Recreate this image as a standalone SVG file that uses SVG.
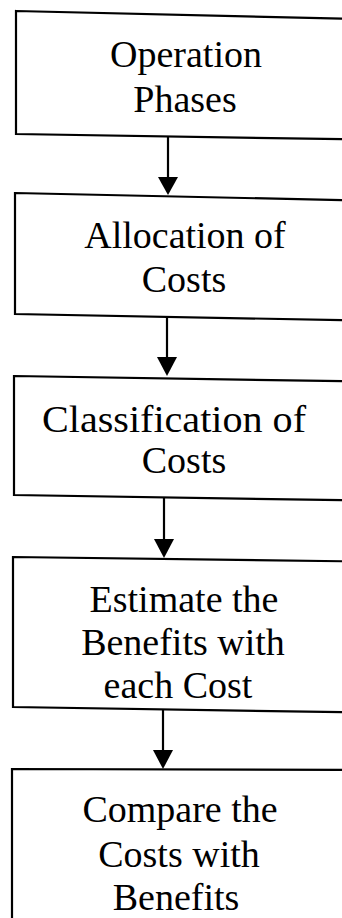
<svg xmlns="http://www.w3.org/2000/svg" width="342" height="918" viewBox="0 0 342 918">
  <style>
    .box { fill: #ffffff; stroke: #000000; stroke-width: 2.2; stroke-linejoin: miter; }
    .label { font-family: "Liberation Serif", "Times New Roman", serif; font-size: 38px; fill: #000000; text-anchor: middle; }
    .link { stroke: #000000; stroke-width: 2.2; fill: none; }
    .head { fill: #000000; }
  </style>
  <rect width="342" height="918" fill="#ffffff"/>

  <!-- process steps, top to bottom; boxes run past the right edge -->
  <g id="operation-phases">
    <polygon class="box" points="16,11 360,19 360,139.5 16,134"/>
    <text class="label" x="186" y="67">Operation</text>
    <text class="label" x="185" y="112">Phases</text>
  </g>

  <g id="allocation-of-costs">
    <polygon class="box" points="15,193 360,200.5 360,320.5 15,314"/>
    <text class="label" x="185" y="248">Allocation of</text>
    <text class="label" x="184" y="292">Costs</text>
  </g>

  <g id="classification-of-costs">
    <polygon class="box" points="14,376 360,381.5 360,500.5 14,495"/>
    <text class="label" x="174" y="432" textLength="264" lengthAdjust="spacingAndGlyphs">Classification of</text>
    <text class="label" x="184" y="473">Costs</text>
  </g>

  <g id="estimate-benefits">
    <polygon class="box" points="13,557 360,561.5 360,712.5 13,707"/>
    <text class="label" x="184" y="612">Estimate the</text>
    <text class="label" x="183" y="655">Benefits with</text>
    <text class="label" x="178" y="698">each Cost</text>
  </g>

  <g id="compare-costs-benefits">
    <polygon class="box" points="12,769 360,770 360,940 12,940"/>
    <text class="label" x="180" y="822">Compare the</text>
    <text class="label" x="179" y="867">Costs with</text>
    <text class="label" x="176" y="910">Benefits</text>
  </g>

  <!-- connectors: straight drops with solid triangular heads -->
  <g id="connectors">
    <line class="link" x1="168" y1="136" x2="168" y2="178"/>
    <polygon class="head" points="158,177 178,177 168,195"/>

    <line class="link" x1="167" y1="316" x2="167" y2="358"/>
    <polygon class="head" points="157,357 177,357 167,376"/>

    <line class="link" x1="164" y1="497" x2="164" y2="540"/>
    <polygon class="head" points="154,539 174,539 164,558"/>

    <line class="link" x1="163" y1="709" x2="163" y2="751"/>
    <polygon class="head" points="153,750 173,750 163,769"/>
  </g>
</svg>
